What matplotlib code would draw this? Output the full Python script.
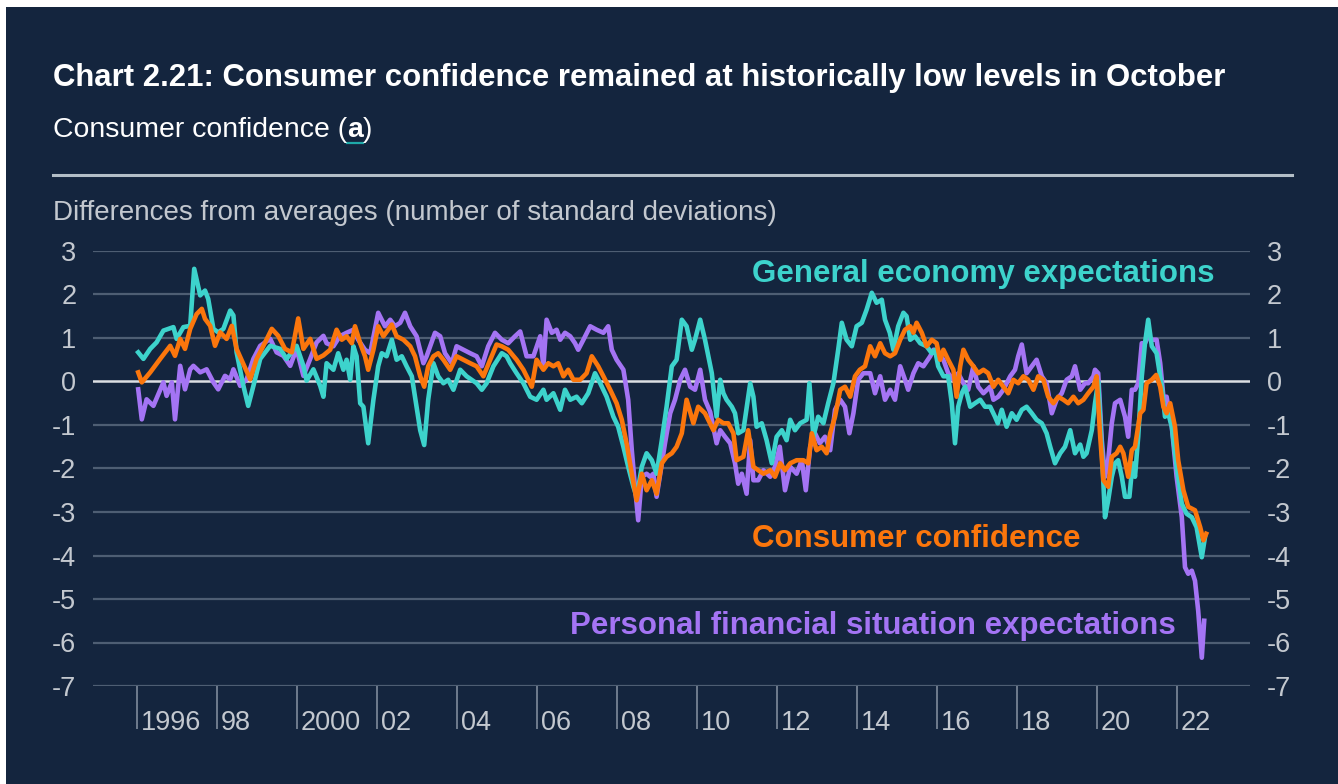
import matplotlib
matplotlib.use("Agg")
import matplotlib.pyplot as plt
from matplotlib.lines import Line2D
from matplotlib.patches import Rectangle
import matplotlib.transforms as mtransforms

plt.rcParams['font.family'] = ['Liberation Sans', 'DejaVu Sans']

# ---------------- data ----------------
ge_t = [1996.03, 1996.16, 1996.33, 1996.49, 1996.66, 1996.91, 1996.99, 1997.16, 1997.33, 1997.43,
        1997.58, 1997.70, 1997.78, 1997.91, 1998.03, 1998.16, 1998.33, 1998.41, 1998.49, 1998.66,
        1998.78, 1998.91, 1999.08, 1999.33, 1999.58, 1999.74, 1999.99, 2000.16, 2000.24, 2000.41,
        2000.58, 2000.66, 2000.74, 2000.91, 2001.03, 2001.16, 2001.24, 2001.33, 2001.41, 2001.49,
        2001.58, 2001.66, 2001.78, 2001.91, 2002.03, 2002.12, 2002.24, 2002.37, 2002.49, 2002.62,
        2002.74, 2002.87, 2002.99, 2003.08, 2003.18, 2003.28, 2003.41, 2003.53, 2003.66, 2003.78,
        2003.91, 2004.08, 2004.24, 2004.49, 2004.62, 2004.74, 2004.91, 2005.12, 2005.24, 2005.33,
        2005.49, 2005.66, 2005.83, 2005.99, 2006.16, 2006.24, 2006.41, 2006.58, 2006.70, 2006.83,
        2006.99, 2007.12, 2007.28, 2007.45, 2007.58, 2007.74, 2007.91, 2008.03, 2008.16, 2008.28,
        2008.41, 2008.49, 2008.62, 2008.74, 2008.87, 2008.99, 2009.12, 2009.24, 2009.37, 2009.49,
        2009.62, 2009.74, 2009.87, 2009.95, 2010.08, 2010.20, 2010.37, 2010.49, 2010.58, 2010.66,
        2010.74, 2010.87, 2010.95, 2011.03, 2011.16, 2011.33, 2011.41, 2011.49, 2011.62, 2011.74,
        2011.87, 2011.99, 2012.12, 2012.24, 2012.33, 2012.45, 2012.58, 2012.74, 2012.81, 2012.91,
        2013.03, 2013.16, 2013.28, 2013.41, 2013.53, 2013.62, 2013.74, 2013.87, 2013.99, 2014.12,
        2014.24, 2014.37, 2014.49, 2014.62, 2014.70, 2014.82, 2014.91, 2015.03, 2015.16, 2015.24,
        2015.33, 2015.45, 2015.58, 2015.74, 2015.87, 2015.95, 2016.03, 2016.16, 2016.28, 2016.37,
        2016.45, 2016.53, 2016.62, 2016.70, 2016.83, 2016.95, 2017.08, 2017.20, 2017.33, 2017.45,
        2017.52, 2017.62, 2017.74, 2017.87, 2017.99, 2018.12, 2018.24, 2018.37, 2018.49, 2018.62,
        2018.74, 2018.83, 2018.95, 2019.08, 2019.20, 2019.33, 2019.45, 2019.58, 2019.66, 2019.74,
        2019.87, 2019.95, 2020.03, 2020.12, 2020.20, 2020.28, 2020.37, 2020.45, 2020.53, 2020.62,
        2020.70, 2020.81, 2020.89, 2020.95, 2021.03, 2021.12, 2021.20, 2021.28, 2021.37, 2021.49,
        2021.62, 2021.70, 2021.78, 2021.87, 2021.99, 2022.12, 2022.24, 2022.37, 2022.49, 2022.62,
        2022.70]
ge_v = [0.67, 0.52, 0.75, 0.90, 1.17, 1.25, 0.98, 1.25, 1.28, 2.59,
        1.98, 2.09, 1.90, 1.21, 1.13, 1.21, 1.63, 1.52, 0.67, -0.10,
        -0.56, -0.10, 0.52, 0.82, 0.75, 0.52, 0.82, 0.36, 0.02, 0.28,
        -0.10, -0.35, 0.42, 0.27, 0.65, 0.27, 0.50, 0.04, 0.81, 0.58,
        -0.50, -0.58, -1.42, -0.42, 0.35, 0.65, 0.58, 0.96, 0.50, 0.58,
        0.35, 0.12, -0.58, -1.12, -1.46, -0.42, 0.42, 0.12, -0.04, 0.04,
        -0.19, 0.27, 0.12, -0.04, -0.19, -0.04, 0.35, 0.65, 0.58, 0.42,
        0.19, -0.04, -0.35, -0.42, -0.19, -0.42, -0.27, -0.65, -0.19, -0.42,
        -0.35, -0.50, -0.27, 0.19, -0.04, -0.35, -0.81, -1.04, -1.50, -1.96,
        -2.42, -2.65, -1.96, -1.65, -1.81, -2.12, -1.35, -0.58, 0.35, 0.50,
        1.42, 1.27, 0.73, 0.96, 1.42, 0.96, 0.19, -0.81, 0.04, -0.27,
        -0.42, -0.58, -0.73, -1.19, -1.12, -0.04, -0.35, -1.04, -0.96, -1.35,
        -1.88, -1.27, -1.12, -1.35, -0.88, -1.12, -0.96, -0.88, -0.04, -1.27,
        -0.81, -0.96, -0.50, -0.04, 0.73, 1.35, 0.96, 0.81, 1.27, 1.35,
        1.65, 2.04, 1.81, 1.88, 1.42, 1.12, 0.73, 1.27, 1.58, 1.50,
        0.96, 1.04, 0.88, 0.81, 0.65, 0.73, 0.35, 0.12, 0.12, -0.50,
        -1.42, -0.58, -0.27, -0.12, -0.58, -0.50, -0.42, -0.58, -0.58, -0.81,
        -0.96, -0.65, -1.04, -0.73, -0.88, -0.65, -0.58, -0.73, -0.88, -0.96,
        -1.19, -1.50, -1.88, -1.65, -1.50, -1.12, -1.65, -1.45, -1.73, -1.65,
        -1.12, -0.50, 0.00, -1.58, -3.12, -2.73, -2.19, -1.88, -1.81, -2.19,
        -2.65, -2.65, -1.88, -2.19, -1.27, 0.12, 0.88, 1.42, 0.81, 0.65,
        -0.12, -0.81, -0.73, -1.04, -1.96, -2.81, -3.04, -3.12, -3.35, -4.04,
        -3.58]

cc_t = [1996.03, 1996.12, 1996.33, 1996.58, 1996.83, 1996.95, 1997.08, 1997.20, 1997.33, 1997.49,
        1997.62, 1997.70, 1997.83, 1997.95, 1998.08, 1998.24, 1998.37, 1998.49, 1998.66, 1998.83,
        1998.99, 1999.16, 1999.37, 1999.53, 1999.70, 1999.87, 2000.03, 2000.16, 2000.33, 2000.49,
        2000.66, 2000.83, 2000.99, 2001.12, 2001.24, 2001.37, 2001.45, 2001.58, 2001.70, 2001.78,
        2001.91, 2002.03, 2002.16, 2002.28, 2002.37, 2002.49, 2002.66, 2002.83, 2002.95, 2003.08,
        2003.18, 2003.28, 2003.41, 2003.53, 2003.66, 2003.83, 2003.99, 2004.16, 2004.33, 2004.49,
        2004.66, 2004.83, 2004.99, 2005.12, 2005.28, 2005.49, 2005.66, 2005.87, 2005.99, 2006.16,
        2006.28, 2006.41, 2006.53, 2006.66, 2006.78, 2006.91, 2007.08, 2007.24, 2007.37, 2007.53,
        2007.66, 2007.83, 2007.99, 2008.12, 2008.24, 2008.37, 2008.49, 2008.62, 2008.74, 2008.87,
        2008.99, 2009.12, 2009.24, 2009.37, 2009.49, 2009.62, 2009.74, 2009.91, 2010.03, 2010.20,
        2010.41, 2010.53, 2010.66, 2010.78, 2010.91, 2010.99, 2011.16, 2011.28, 2011.41, 2011.53,
        2011.66, 2011.83, 2011.95, 2012.08, 2012.20, 2012.33, 2012.49, 2012.66, 2012.78, 2012.87,
        2012.99, 2013.12, 2013.24, 2013.33, 2013.45, 2013.58, 2013.70, 2013.83, 2013.95, 2014.07,
        2014.20, 2014.33, 2014.45, 2014.58, 2014.70, 2014.83, 2014.95, 2015.08, 2015.20, 2015.33,
        2015.41, 2015.49, 2015.62, 2015.74, 2015.87, 2015.99, 2016.08, 2016.16, 2016.28, 2016.41,
        2016.49, 2016.58, 2016.66, 2016.78, 2016.91, 2017.03, 2017.16, 2017.28, 2017.41, 2017.53,
        2017.66, 2017.78, 2017.91, 2018.03, 2018.16, 2018.28, 2018.41, 2018.53, 2018.66, 2018.78,
        2018.91, 2019.03, 2019.16, 2019.28, 2019.41, 2019.53, 2019.66, 2019.78, 2019.91, 2019.99,
        2020.08, 2020.16, 2020.28, 2020.37, 2020.49, 2020.58, 2020.66, 2020.78, 2020.87, 2020.95,
        2021.08, 2021.16, 2021.24, 2021.37, 2021.48, 2021.58, 2021.66, 2021.74, 2021.83, 2021.95,
        2022.03, 2022.16, 2022.28, 2022.45, 2022.58, 2022.66, 2022.73]
cc_v = [0.21, -0.02, 0.21, 0.52, 0.82, 0.59, 0.98, 0.75, 1.21, 1.55,
        1.67, 1.44, 1.28, 0.82, 1.13, 0.98, 1.28, 0.75, 0.40, 0.05,
        0.52, 0.82, 1.21, 1.05, 0.75, 0.67, 1.45, 0.75, 0.98, 0.52,
        0.60, 0.73, 1.19, 0.96, 1.04, 0.88, 1.27, 0.88, 0.58, 0.27,
        0.73, 1.27, 1.04, 1.19, 1.31, 1.04, 0.96, 0.81, 0.58, 0.12,
        -0.12, 0.35, 0.58, 0.65, 0.50, 0.27, 0.58, 0.50, 0.42, 0.35,
        0.12, 0.50, 0.85, 0.81, 0.73, 0.50, 0.27, -0.12, 0.50, 0.27,
        0.42, 0.35, 0.42, 0.12, 0.27, 0.04, 0.04, 0.19, 0.58, 0.35,
        0.12, -0.19, -0.50, -0.88, -1.42, -2.12, -2.73, -2.12, -2.50, -2.27,
        -2.58, -1.88, -1.73, -1.65, -1.50, -1.19, -0.42, -0.96, -0.58, -0.73,
        -1.12, -0.88, -0.96, -0.96, -1.19, -1.81, -1.73, -1.12, -1.96, -2.04,
        -2.12, -2.04, -2.19, -1.88, -2.04, -1.88, -1.81, -1.81, -1.88, -1.19,
        -1.58, -1.50, -1.65, -1.19, -0.81, -0.19, -0.12, -0.35, 0.12, 0.27,
        0.35, 0.81, 0.58, 0.88, 0.65, 0.58, 0.65, 0.96, 1.19, 1.27,
        1.12, 1.35, 1.12, 0.81, 0.96, 0.88, 0.50, 0.73, 0.50, 0.27,
        -0.35, 0.35, 0.73, 0.50, 0.35, 0.19, 0.27, 0.19, -0.12, 0.04,
        -0.12, -0.27, 0.04, -0.04, 0.12, 0.04, -0.19, 0.12, 0.04, -0.35,
        -0.50, -0.35, -0.42, -0.50, -0.35, -0.50, -0.42, -0.27, -0.12, 0.12,
        -1.27, -2.27, -2.42, -1.73, -1.65, -1.50, -1.65, -2.19, -1.58, -1.50,
        -0.73, -0.65, -0.04, 0.04, 0.15, -0.12, -0.58, -0.73, -0.50, -1.04,
        -1.81, -2.50, -2.88, -2.96, -3.35, -3.65, -3.50]

pf_t = [1996.03, 1996.12, 1996.24, 1996.41, 1996.66, 1996.74, 1996.87, 1996.95, 1997.08, 1997.20,
        1997.33, 1997.41, 1997.58, 1997.74, 1997.91, 1998.03, 1998.20, 1998.33, 1998.41, 1998.58,
        1998.74, 1998.91, 1999.08, 1999.33, 1999.49, 1999.66, 1999.83, 1999.99, 2000.16, 2000.33,
        2000.49, 2000.66, 2000.74, 2000.91, 2001.07, 2001.24, 2001.41, 2001.53, 2001.70, 2001.83,
        2002.03, 2002.20, 2002.33, 2002.45, 2002.58, 2002.70, 2002.83, 2002.99, 2003.16, 2003.24,
        2003.45, 2003.58, 2003.70, 2003.87, 2003.99, 2004.16, 2004.33, 2004.49, 2004.62, 2004.78,
        2004.95, 2005.12, 2005.28, 2005.45, 2005.58, 2005.74, 2005.91, 2006.08, 2006.16, 2006.24,
        2006.37, 2006.49, 2006.58, 2006.70, 2006.83, 2006.95, 2007.03, 2007.16, 2007.33, 2007.49,
        2007.66, 2007.78, 2007.87, 2007.99, 2008.16, 2008.28, 2008.37, 2008.45, 2008.53, 2008.62,
        2008.74, 2008.83, 2008.91, 2008.99, 2009.08, 2009.20, 2009.33, 2009.45, 2009.58, 2009.70,
        2009.83, 2009.95, 2010.08, 2010.20, 2010.33, 2010.49, 2010.58, 2010.70, 2010.83, 2010.95,
        2011.03, 2011.12, 2011.24, 2011.33, 2011.41, 2011.53, 2011.66, 2011.83, 2011.95, 2012.07,
        2012.20, 2012.33, 2012.49, 2012.62, 2012.72, 2012.83, 2012.95, 2013.07, 2013.20, 2013.33,
        2013.45, 2013.58, 2013.70, 2013.81, 2013.91, 2014.03, 2014.16, 2014.33, 2014.45, 2014.58,
        2014.70, 2014.83, 2014.95, 2015.08, 2015.20, 2015.28, 2015.41, 2015.53, 2015.66, 2015.83,
        2015.91, 2016.03, 2016.16, 2016.28, 2016.41, 2016.53, 2016.66, 2016.78, 2016.91, 2017.03,
        2017.16, 2017.33, 2017.41, 2017.53, 2017.66, 2017.83, 2017.95, 2018.03, 2018.12, 2018.24,
        2018.37, 2018.49, 2018.62, 2018.74, 2018.87, 2018.99, 2019.12, 2019.24, 2019.37, 2019.45,
        2019.58, 2019.70, 2019.78, 2019.91, 2019.95, 2020.03, 2020.12, 2020.20, 2020.28, 2020.37,
        2020.45, 2020.58, 2020.70, 2020.78, 2020.87, 2020.95, 2021.03, 2021.12, 2021.20, 2021.28,
        2021.37, 2021.49, 2021.58, 2021.66, 2021.74, 2021.87, 2021.99, 2022.12, 2022.20, 2022.28,
        2022.37, 2022.45, 2022.53, 2022.62, 2022.68]
pf_v = [-0.18, -0.87, -0.41, -0.56, -0.02, -0.33, -0.02, -0.87, 0.36, -0.18,
        0.28, 0.36, 0.21, 0.28, -0.02, -0.18, 0.13, 0.05, 0.28, -0.10,
        0.05, 0.52, 0.82, 0.98, 0.67, 0.59, 0.36, 0.75, 0.13, 0.52,
        0.90, 1.05, 0.88, 0.81, 1.04, 1.12, 1.19, 0.96, 0.73, 0.65,
        1.58, 1.27, 1.42, 1.27, 1.35, 1.58, 1.27, 1.04, 0.42, 0.58,
        1.12, 1.04, 0.65, 0.42, 0.81, 0.73, 0.65, 0.58, 0.35, 0.81,
        1.12, 0.96, 0.88, 1.04, 1.15, 0.58, 0.58, 1.04, 0.35, 1.42,
        1.12, 1.19, 0.96, 1.12, 1.04, 0.88, 0.73, 0.96, 1.27, 1.19,
        1.12, 1.27, 0.73, 0.50, 0.27, -0.42, -1.58, -2.42, -3.19, -2.19,
        -2.12, -2.19, -2.12, -2.65, -2.12, -1.42, -0.73, -0.42, 0.04, 0.27,
        -0.12, -0.19, 0.27, -0.42, -0.70, -1.42, -1.12, -1.27, -1.42, -1.88,
        -2.35, -2.12, -2.58, -1.35, -2.27, -2.27, -2.04, -2.19, -1.96, -1.50,
        -2.50, -1.96, -2.12, -1.81, -2.50, -1.50, -1.19, -1.42, -1.27, -1.58,
        -0.65, -0.42, -0.58, -1.19, -0.73, 0.04, 0.19, 0.19, -0.27, 0.12,
        -0.42, -0.19, -0.42, 0.35, 0.04, -0.19, 0.19, 0.42, 0.35, 0.58,
        0.73, 0.65, 0.50, 0.19, 0.04, 0.19, -0.04, -0.19, 0.35, -0.12,
        -0.27, -0.12, -0.42, -0.35, -0.19, 0.12, 0.27, 0.58, 0.85, 0.19,
        0.35, 0.50, 0.12, -0.04, -0.73, -0.42, -0.27, 0.04, 0.12, 0.35,
        -0.19, -0.04, -0.04, 0.12, 0.27, 0.19, -1.35, -2.19, -1.81, -0.96,
        -0.50, -0.42, -0.81, -1.27, -0.19, -0.19, -0.04, 0.88, 0.88, 1.04,
        0.96, 0.96, 0.42, -0.35, -0.35, -1.04, -2.19, -3.12, -4.27, -4.42,
        -4.35, -4.58, -5.27, -6.35, -5.50]

tick_years = [1996, 1998, 2000, 2002, 2004, 2006, 2008, 2010, 2012, 2014, 2016, 2018, 2020, 2022]
tick_labels = ['1996', '98', '2000', '02', '04', '06', '08', '10', '12', '14', '16', '18', '20', '22']
y_ticks = [3, 2, 1, 0, -1, -2, -3, -4, -5, -6, -7]

title = "Chart 2.21: Consumer confidence remained at historically low levels in October"
subtitle = "Consumer confidence"
ylabel = "Differences from averages (number of standard deviations)"
label_ge = "General economy expectations"
label_cc = "Consumer confidence"
label_pf = "Personal financial situation expectations"

# ---------------- style ----------------
NAVY = '#14253e'
CYAN = '#3dd3cc'
ORANGE = '#fb760c'
PURPLE = '#a474f4'
GRID = '#4e5e73'
ZERO = '#dcdfe3'
TXT = '#c3c8cf'

W, H = 1338, 784
fig = plt.figure(figsize=(W / 100, H / 100), dpi=100, facecolor='white')
fig.patches.append(Rectangle((6 / W, 0), 1 - 6 / W, 1 - 7 / H, transform=fig.transFigure,
                             facecolor=NAVY, edgecolor='none', zorder=-10))

def fx(px):
    return px / W

def fy(py):
    return 1 - py / H

ax = fig.add_axes([fx(93), fy(686), fx(1250) - fx(93), fy(251) - fy(686)])
ax.set_facecolor('none')
ax.set_xlim(1994.9, 2023.825)
ax.set_ylim(-7, 3)

for v in y_ticks:
    ax.axhline(v, color=ZERO if v == 0 else GRID, lw=1.8 if v == 0 else 1.6, zorder=1)

ax.plot(pf_t, pf_v, color=PURPLE, lw=3.3, zorder=3, solid_joinstyle='round')
ax.plot(ge_t, ge_v, color=CYAN, lw=3.3, zorder=4, solid_joinstyle='round')
ax.plot(cc_t, cc_v, color=ORANGE, lw=3.3, zorder=5, solid_joinstyle='round')

for s in ax.spines.values():
    s.set_visible(False)

ax.set_yticks(y_ticks)
ax.set_yticklabels([str(v) for v in y_ticks])
ax.tick_params(axis='y', which='both', length=0, pad=12, labelsize=19.5, labelcolor=TXT,
               left=True, right=True, labelleft=True, labelright=True)
ax.set_xticks(tick_years)
ax.set_xticklabels([])
ax.tick_params(axis='x', direction='out', length=31, width=1.1, color='#8793a3')

trans = mtransforms.blended_transform_factory(ax.transData, ax.transAxes)
trans = mtransforms.offset_copy(trans, fig=fig, x=4, y=0, units='dots')
for yr, lab in zip(tick_years, tick_labels):
    ax.text(yr, -0.101, lab, transform=trans, ha='left', va='baseline',
            fontsize=19.5, color=TXT)

# series labels
ax.text(2011.375, 2.28, label_ge, color=CYAN, fontsize=22.5, fontweight='bold', ha='left', va='baseline')
ax.text(2011.375, -3.80, label_cc, color=ORANGE, fontsize=22.5, fontweight='bold', ha='left', va='baseline')
ax.text(2006.83, -5.80, label_pf, color=PURPLE, fontsize=22.5, fontweight='bold', ha='left', va='baseline')

# titles
fig.text(fx(53), fy(86), title, fontsize=22.4, fontweight='bold', color='white', ha='left', va='baseline')
t1 = fig.text(fx(53), fy(137), subtitle + " (", fontsize=20.4, color='white', ha='left', va='baseline')
fig.canvas.draw()
r = fig.canvas.get_renderer()
bb1 = t1.get_window_extent(r)
t2 = fig.text(bb1.x1 / W, fy(137), "a", fontsize=20.4, fontweight='bold', color='white',
              ha='left', va='baseline')
bb2 = t2.get_window_extent(r)
fig.text(bb2.x1 / W, fy(137), ")", fontsize=20.4, color='white', ha='left', va='baseline')
fig.add_artist(Line2D([bb2.x0 / W, bb2.x1 / W], [fy(143), fy(143)], color='#1fa9a9', lw=1.6))

fig.add_artist(Line2D([fx(53), fx(1292)], [fy(175), fy(175)], color='#b3bec7', lw=2.2))
fig.text(fx(53), fy(220), ylabel, fontsize=20, color=TXT, ha='left', va='baseline')

fig.savefig('out.png', dpi=100, facecolor=fig.get_facecolor())
